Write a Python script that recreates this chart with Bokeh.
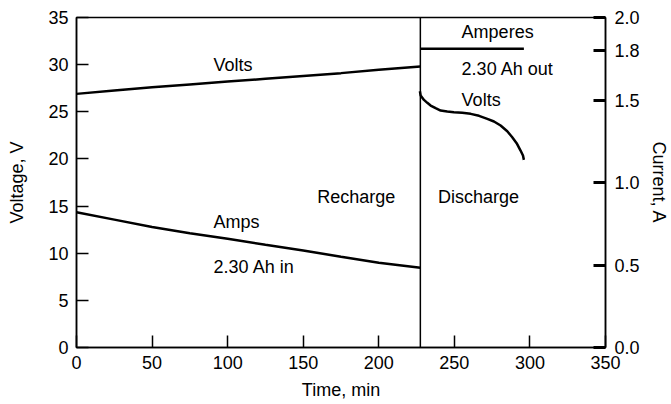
from bokeh.plotting import figure
from bokeh.models import LinearAxis, Range1d, FixedTicker, ColumnDataSource, PrintfTickFormatter
from bokeh.core.properties import value
from bokeh.embed import file_html
from bokeh.resources import INLINE

# ---- data ----
switch_time = 227.5

charge_t = [0, 25, 50, 75, 100, 125, 150, 175, 200, 227.5]
charge_volts = [26.9, 27.25, 27.6, 27.9, 28.2, 28.5, 28.8, 29.1, 29.45, 29.8]
charge_amps = [0.82, 0.775, 0.73, 0.693, 0.659, 0.623, 0.588, 0.55, 0.513, 0.483]

discharge_t = [227.2, 227.7, 229.9, 232.1, 234.3, 237.6, 240.9, 245.3, 249.7, 255.2, 260.8,
               266.3, 271.8, 276.2, 280.6, 285.0, 288.3, 291.2, 293.8, 295.4, 296.0]
discharge_volts = [27.18, 26.72, 26.26, 25.95, 25.66, 25.38, 25.13, 25.03, 24.96, 24.89, 24.78,
                   24.57, 24.25, 23.97, 23.54, 22.94, 22.30, 21.67, 20.89, 20.36, 19.90]
discharge_amp_t = [227.5, 296.0]
discharge_amps = [1.81, 1.81]

x_ticks = [0, 50, 100, 150, 200, 250, 300, 350]
v_ticks = [0, 5, 10, 15, 20, 25, 30, 35]
a_ticks = [0.0, 0.5, 1.0, 1.5, 1.8, 2.0]

volt_labels = ["Volts", "Recharge", "Amperes", "2.30 Ah out", "Volts", "Discharge"]
volt_label_x = [90.7, 159.3, 254.8, 254.8, 254.8, 239.1]
volt_label_y = [30.0, 16.0, 33.5, 29.55, 26.2, 16.0]
amp_labels = ["Amps", "2.30 Ah in"]
amp_label_x = [90.7, 90.7]
amp_label_y = [0.76, 0.49]

FONT = "Liberation Sans"
FS = "18px"

p = figure(width=671, height=404, x_range=(0, 350), y_range=(0, 35),
           output_backend="svg", toolbar_location=None,
           min_border_left=76, min_border_right=66, min_border_top=17, min_border_bottom=57)
p.extra_y_ranges = {"amps": Range1d(0, 2)}
p.grid.visible = False
p.outline_line_color = "black"
p.outline_line_width = 1.5
p.background_fill_color = "white"
p.border_fill_color = "white"

xa = p.xaxis[0]
ya = p.yaxis[0]
xa.ticker = FixedTicker(ticks=x_ticks)
ya.ticker = FixedTicker(ticks=v_ticks)
xa.axis_label = "Time, min"
ya.axis_label = "Voltage, V"

ra = LinearAxis(y_range_name="amps", ticker=FixedTicker(ticks=a_ticks), axis_label="Current, A",
                formatter=PrintfTickFormatter(format="%.1f"))
p.add_layout(ra, "right")

for ax in (xa, ya, ra):
    ax.axis_line_color = "black"
    ax.axis_line_width = 1.5
    ax.major_tick_line_color = "black"
    ax.major_tick_line_width = 1.5
    ax.major_tick_in = 12
    ax.major_tick_out = 0
    ax.minor_tick_line_color = None
    ax.major_label_text_font = FONT
    ax.major_label_text_font_size = FS
    ax.major_label_text_color = "black"
    ax.axis_label_text_font = FONT
    ax.axis_label_text_font_size = FS
    ax.axis_label_text_font_style = "normal"
    ax.axis_label_text_color = "black"
    ax.major_label_standoff = 8

ra.major_tick_line_width = 3
ra.major_label_standoff = 9
ra.axis_label_standoff = 6
ya.axis_label_standoff = 18
xa.axis_label_standoff = 8

# separator between recharge and discharge
p.line(x=[switch_time, switch_time], y=[0, 35], line_color="black", line_width=1.5)

# curves
p.line(charge_t, charge_volts, line_color="black", line_width=2.5)
p.line(charge_t, charge_amps, y_range_name="amps", line_color="black", line_width=2.5)
p.line(discharge_t, discharge_volts, line_color="black", line_width=2.5)
p.line(discharge_amp_t, discharge_amps, y_range_name="amps", line_color="black", line_width=2.5)

# text labels
src_v = ColumnDataSource(dict(x=volt_label_x, y=volt_label_y, t=volt_labels))
p.text(x="x", y="y", text="t", source=src_v, text_font=value(FONT), text_font_size=FS,
       text_color="black", text_baseline="middle", text_align="left")
src_a = ColumnDataSource(dict(x=amp_label_x, y=amp_label_y, t=amp_labels))
p.text(x="x", y="y", text="t", source=src_a, y_range_name="amps", text_font=value(FONT),
       text_font_size=FS, text_color="black", text_baseline="middle", text_align="left")

open("out.html", "w").write(file_html(p, INLINE))
